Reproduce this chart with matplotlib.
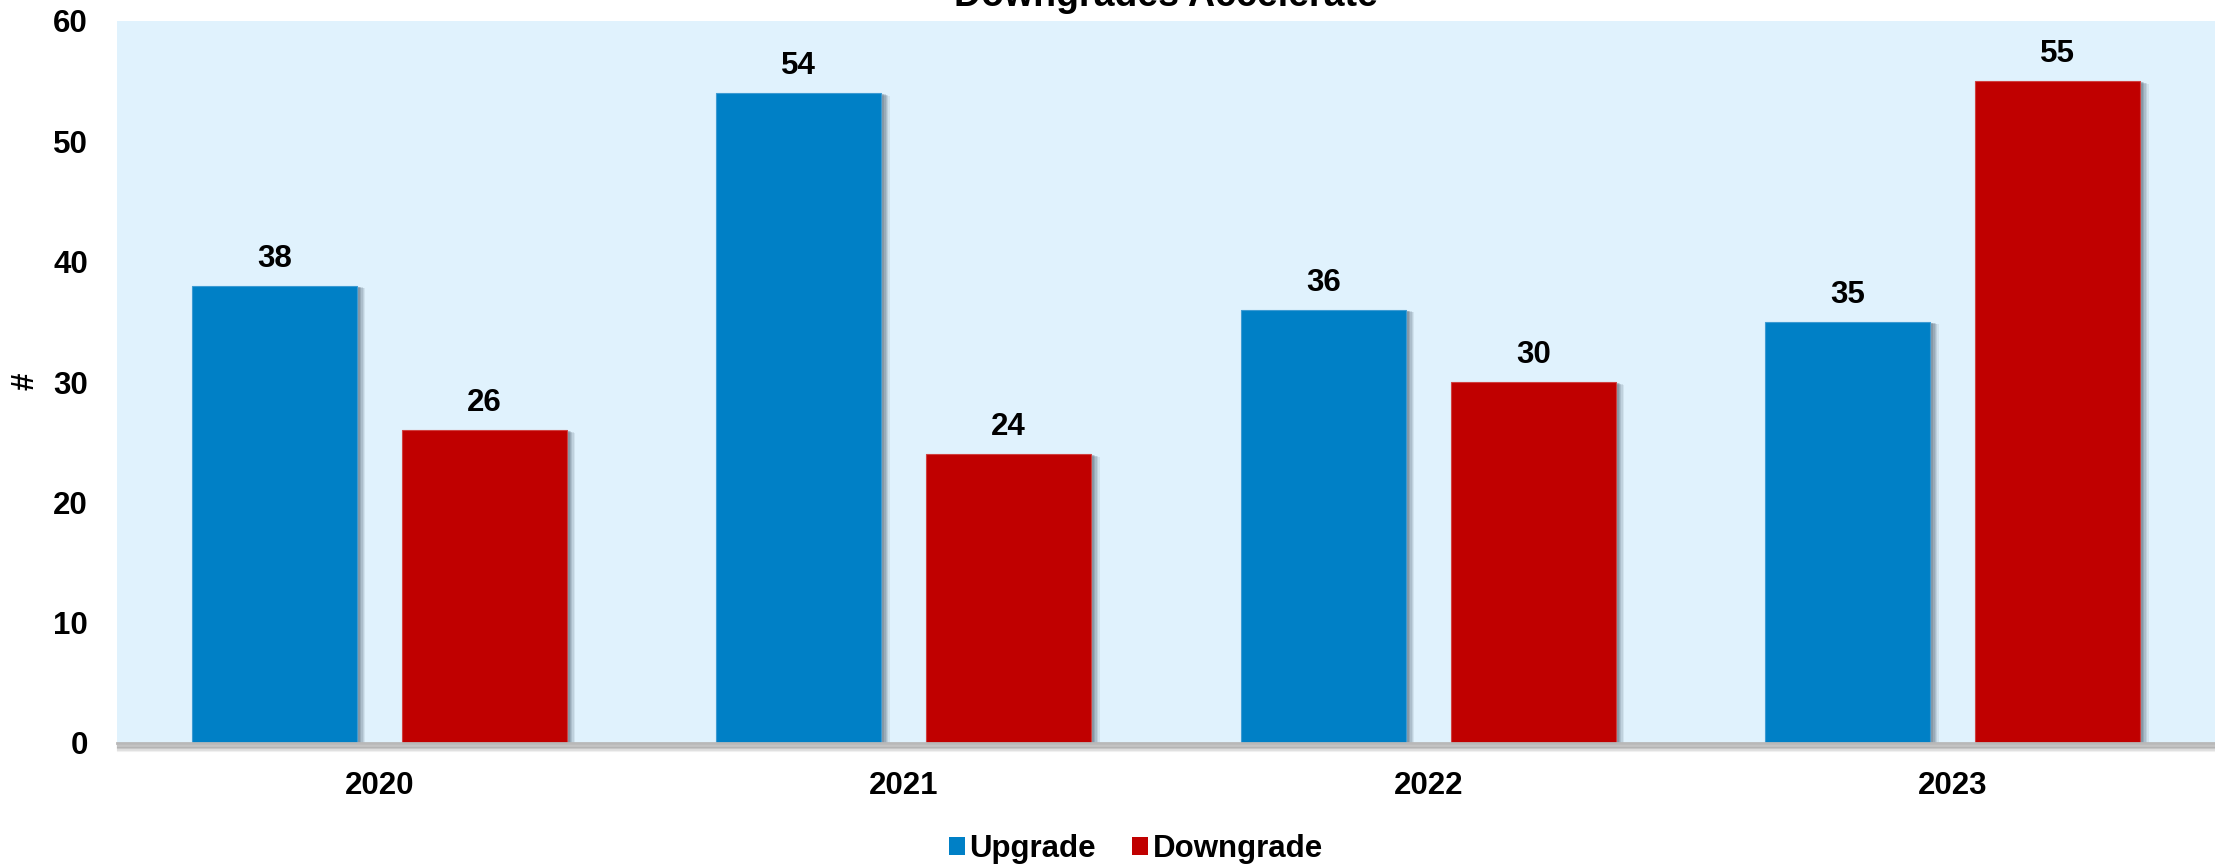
import matplotlib
matplotlib.use("Agg")
import matplotlib.pyplot as plt
import matplotlib.patheffects as pe
from matplotlib.patches import Patch
import numpy as np

years = ["2020", "2021", "2022", "2023"]
upgrades = [38, 54, 36, 35]
downgrades = [26, 24, 30, 55]
series_names = ["Upgrade", "Downgrade"]
yticks = [0, 10, 20, 30, 40, 50, 60]

BLUE = "#0080C6"
RED = "#C00000"
BG = "#E0F2FD"
FS = 22.5

plt.rcParams["font.family"] = ["Liberation Sans", "DejaVu Sans"]
plt.rcParams["font.weight"] = "bold"

W, H = 2215, 867
fig = plt.figure(figsize=(W / 100, H / 100), dpi=100)
ax_l, ax_r, ax_t, ax_b = 117, 2215, 21, 743
ax = fig.add_axes([ax_l / W, (H - ax_b) / H, (ax_r - ax_l) / W, (ax_b - ax_t) / H])
ax.set_facecolor(BG)

# soft drop shadow built from stacked offset copies
shadow = [
    pe.SimplePatchShadow(offset=(o, -o * 0.3), shadow_rgbFace="#2a3a4a", alpha=a)
    for o, a in [(6.0, 0.08), (5.0, 0.10), (4.0, 0.12), (3.0, 0.14), (2.0, 0.16)]
] + [pe.Normal()]

x = np.arange(len(years))
bw = 0.315
off = 0.2
b1 = ax.bar(x - off, upgrades, bw, color=BLUE, edgecolor="#3d9bd3", linewidth=0.8,
            path_effects=shadow, zorder=3)
b2 = ax.bar(x + off, downgrades, bw, color=RED, edgecolor="#d04040", linewidth=0.8,
            path_effects=shadow, zorder=3)

for bars, vals in ((b1, upgrades), (b2, downgrades)):
    for rect, v in zip(bars, vals):
        ax.annotate(f"{v}", (rect.get_x() + rect.get_width() / 2, v),
                    xytext=(0, 19.5), textcoords="offset points",
                    ha="center", va="center", fontsize=FS, fontweight="bold")

ax.set_xlim(-0.5, 3.5)
ax.set_ylim(0, 60)
ax.set_yticks(yticks)
ax.set_xticks(x)
ax.set_xticklabels(years)
ax.tick_params(axis="both", length=0, labelsize=FS)
ax.tick_params(axis="y", pad=21)
ax.tick_params(axis="x", pad=20)
for lab in ax.get_xticklabels() + ax.get_yticklabels():
    lab.set_fontweight("bold")

for s in ("top", "right", "left"):
    ax.spines[s].set_visible(False)
ax.spines["bottom"].set_color("#b8b8b8")
ax.spines["bottom"].set_linewidth(2.0)
ax.spines["bottom"].set_zorder(4)
ax.spines["bottom"].set_path_effects([
    pe.SimpleLineShadow(offset=(1.5, -o), shadow_color="#303030", alpha=a, linewidth=3)
    for o, a in [(5.0, 0.06), (4.0, 0.09), (3.0, 0.13), (2.0, 0.18)]
] + [pe.Normal()])

fig.text(25 / W, 1 - 381 / H, "#", rotation=90, ha="center", va="center",
         fontsize=FS, fontweight="bold")

fig.text((ax_l + ax_r) / 2 / W, 1 - 6 / H, "Downgrades Accelerate", ha="center",
         va="baseline", fontsize=27, fontweight="bold")

handles = [Patch(facecolor=BLUE), Patch(facecolor=RED)]
fig.legend(handles, series_names, loc="center", bbox_to_anchor=(1136 / W, 1 - 849 / H),
           ncol=2, frameon=False, fontsize=FS, handlelength=0.5, handleheight=0.5,
           handletextpad=0.15, columnspacing=1.15, prop={"weight": "bold", "size": FS})

fig.savefig("out.png", dpi=100)
